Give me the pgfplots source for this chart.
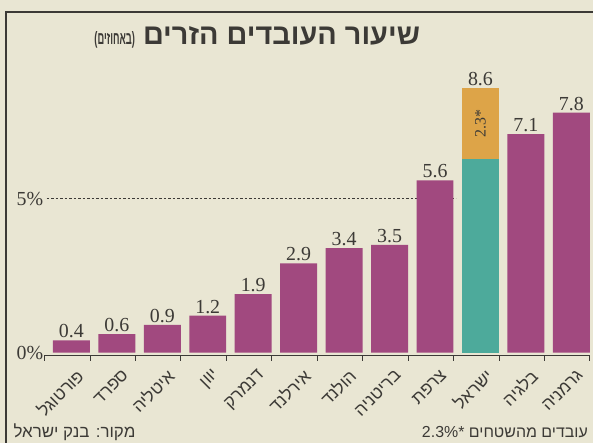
\documentclass[border=0pt]{standalone}
\usepackage{fontspec}
\setmainfont{Liberation Serif}
\newfontfamily\hebsans[Script=Hebrew]{Liberation Sans}
\newfontfamily\hebcond[Script=Hebrew, FakeStretch=0.52]{Liberation Sans}
\usepackage{pgfplots}
\pgfplotsset{compat=1.18}
\TeXXeTstate=1
\definecolor{bg}{HTML}{E9E6D3}
\definecolor{purp}{HTML}{A1497F}
\definecolor{teal2}{HTML}{4DAA9B}
\definecolor{orng}{HTML}{DDA448}
\definecolor{ink}{HTML}{3C3A36}
\begin{document}
\begin{tikzpicture}[x=1bp,y=1bp]
\fill[bg] (0,0) rectangle (594,443);
\draw[line width=1.3bp, ink] (6,0) -- (6,431) -- (594,431);
\node[anchor=east, text=ink, font=\hebsans\bfseries] at (424,406)
  {\beginR\fontsize{29}{29}\selectfont שיעור העובדים הזרים {\hebcond\bfseries\fontsize{18}{18}\selectfont(באחוזים)}\endR};
\node[anchor=west, text=ink, font=\hebsans\fontsize{17}{17}\selectfont] at (10,10)
  {\beginR מקור: בנק ישראל\endR};
\node[anchor=east, text=ink, font=\hebsans\fontsize{16}{16}\selectfont] at (592,10)
  {*2.3\%\ \beginR עובדים מהשטחים\endR};
\begin{axis}[
  at={(44.5bp,86.9bp)}, anchor=south west,
  scale only axis, width=546bp, height=280.3bp,
  xmin=-0.5, xmax=11.5, ymin=-0.1, ymax=9,
  axis x line=bottom, axis y line=left,
  x axis line style={-, ink, line width=0.9bp},
  y axis line style={draw=none},
  ytick={0,5}, yticklabels={0\%,5\%},
  ytick style={draw=none},
  yticklabel style={font=\fontsize{20}{20}\selectfont, text=ink, inner sep=1bp},
  xtick={0.3,1.3,...,11.3},
  major x tick style={draw=none},
  minor xtick={-0.5,0.5,...,11.5},
  minor tick length=5bp, tick align=inside,
  minor x tick style={ink, line width=0.8bp},
  xticklabels={{\beginR פורטוגל\endR},{\beginR ספרד\endR},{\beginR איטליה\endR},{\beginR יוון\endR},{\beginR דנמרק\endR},{\beginR אירלנד\endR},{\beginR הולנד\endR},{\beginR בריטניה\endR},{\beginR צרפת\endR},{\beginR ישראל\endR},{\beginR בלגיה\endR},{\beginR גרמניה\endR}},
  xticklabel style={font=\hebsans\fontsize{17.5}{17.5}\selectfont, text=ink, yshift=-12bp, rotate=45, anchor=east, inner sep=1bp},
  ybar, bar width=37bp,
  /pgf/number format/assume math mode=true,
  nodes near coords,
  every node near coord/.append style={font=\fontsize{20}{20}\selectfont, text=ink, inner sep=2bp},
  clip=false,
]
\draw[ink, line width=0.8bp, dash pattern=on 2.5bp off 2bp] (axis cs:-0.45,5) -- (axis cs:8.55,5);
\addplot[fill=purp, draw=none, bar shift=0pt] coordinates {
 (0.093,0.4) (1.093,0.6) (2.093,0.9) (3.093,1.2) (4.093,1.9) (5.093,2.9)
 (6.093,3.4) (7.093,3.5) (8.093,5.6) (10.093,7.1) (11.093,7.8)};
\addplot[fill=orng, draw=none, bar shift=0pt] coordinates {(9.093,8.6)};
\addplot[fill=teal2, draw=none, bar shift=0pt, nodes near coords={}] coordinates {(9.093,6.3)};
\node[rotate=90, text=ink, font=\fontsize{16}{16}\selectfont] at (axis cs:9.093,7.45) {2.3*};
\end{axis}
\end{tikzpicture}
\end{document}
